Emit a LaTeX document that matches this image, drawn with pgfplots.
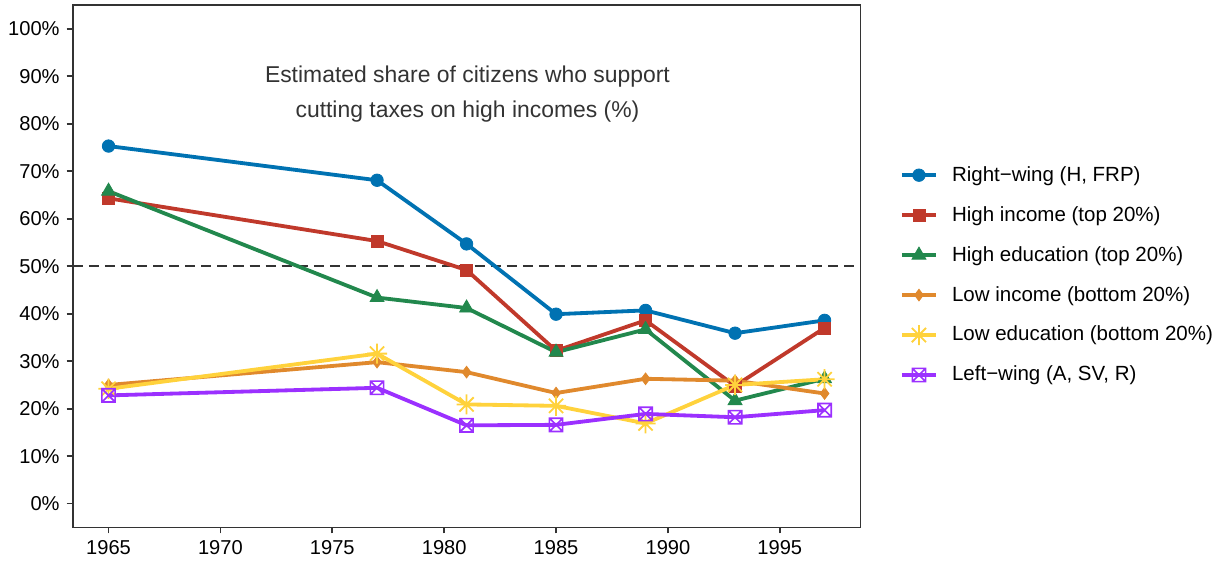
\documentclass[border=0pt]{standalone}
\usepackage{pgfplots}
\pgfplotsset{compat=1.18}
\usepackage{fontspec}
\setmainfont{Liberation Sans}
\definecolor{cblue}{RGB}{0,114,178}
\definecolor{cred}{RGB}{192,57,43}
\definecolor{cgreen}{RGB}{34,136,77}
\definecolor{corange}{RGB}{224,137,45}
\definecolor{cyellow}{RGB}{255,210,60}
\definecolor{cpurple}{RGB}{155,48,255}
\definecolor{axgray}{RGB}{51,51,51}
\pgfdeclareplotmark{sqx}{%
  \pgfpathrectangle{\pgfpoint{-\pgfplotmarksize}{-\pgfplotmarksize}}{\pgfpoint{2\pgfplotmarksize}{2\pgfplotmarksize}}%
  \pgfpathmoveto{\pgfpoint{-\pgfplotmarksize}{-\pgfplotmarksize}}\pgfpathlineto{\pgfpoint{\pgfplotmarksize}{\pgfplotmarksize}}%
  \pgfpathmoveto{\pgfpoint{-\pgfplotmarksize}{\pgfplotmarksize}}\pgfpathlineto{\pgfpoint{\pgfplotmarksize}{-\pgfplotmarksize}}%
  \pgfusepathqstroke}
\pgfdeclareplotmark{estar}{%
  \pgfpathmoveto{\pgfpoint{-\pgfplotmarksize}{0pt}}\pgfpathlineto{\pgfpoint{\pgfplotmarksize}{0pt}}%
  \pgfpathmoveto{\pgfpoint{0pt}{-\pgfplotmarksize}}\pgfpathlineto{\pgfpoint{0pt}{\pgfplotmarksize}}%
  \pgfpathmoveto{\pgfpoint{-0.707\pgfplotmarksize}{-0.707\pgfplotmarksize}}\pgfpathlineto{\pgfpoint{0.707\pgfplotmarksize}{0.707\pgfplotmarksize}}%
  \pgfpathmoveto{\pgfpoint{-0.707\pgfplotmarksize}{0.707\pgfplotmarksize}}\pgfpathlineto{\pgfpoint{0.707\pgfplotmarksize}{-0.707\pgfplotmarksize}}%
  \pgfusepathqstroke}
\begin{document}
\begin{tikzpicture}
\begin{axis}[
  scale only axis,
  width=392pt, height=260pt,
  xmin=1963.4, xmax=1998.6,
  ymin=-5, ymax=105,
  xtick={1965,1970,1975,1980,1985,1990,1995},
  ytick={0,10,...,100},
  yticklabel={\pgfmathprintnumber{\tick}\%},
  /pgf/number format/1000 sep={},
  /pgf/number format/assume math mode=true,
  tick pos=left,
  tick align=outside,
  major tick length=3pt,
  every tick/.style={axgray, line width=0.8pt},
  axis line style={axgray, line width=0.8pt},
  tick label style={font=\fontsize{10}{12}\selectfont, black},
  legend style={at={(1.042,0.483)}, anchor=west, draw=none, fill=none,
    font=\fontsize{10.2}{12}\selectfont, row sep=7pt,
    /tikz/every odd column/.append style={column sep=5pt}},
  legend cell align=left,
  every axis plot/.append style={line width=1.9pt},
]
\addplot[color=axgray, dashed, line width=1pt, dash pattern=on 5pt off 3pt, forget plot] coordinates {(1963.4,50) (1998.6,50)};
\addplot[color=cblue, mark=*, mark size=3.1pt, mark options={line width=0.4pt}] coordinates {
(1965,75.3) (1977,68.1) (1981,54.7) (1985,39.9) (1989,40.7) (1993,35.9) (1997,38.6)};
\addlegendentry{Right−wing (H, FRP)}
\addplot[color=cred, mark=square*, mark size=3pt, mark options={line width=0.4pt}] coordinates {
(1965,64.3) (1977,55.3) (1981,49.2) (1985,32.2) (1989,38.6) (1993,24.8) (1997,37.0)};
\addlegendentry{High income (top 20\%)}
\addplot[color=cgreen, mark=triangle*, mark size=4pt, mark options={line width=0.4pt}] coordinates {
(1965,65.8) (1977,43.4) (1981,41.2) (1985,31.9) (1989,36.7) (1993,21.7) (1997,26.3)};
\addlegendentry{High education (top 20\%)}
\addplot[color=corange, mark=diamond*, mark size=2.9pt, mark options={line width=0.4pt}] coordinates {
(1965,25.0) (1977,29.8) (1981,27.7) (1985,23.3) (1989,26.3) (1993,25.9) (1997,23.2)};
\addlegendentry{Low income (bottom 20\%)}
\addplot[color=cyellow, mark=estar, mark size=5pt, mark options={line width=0.9pt}] coordinates {
(1965,24.2) (1977,31.6) (1981,20.9) (1985,20.6) (1989,16.9) (1993,25.0) (1997,26.2)};
\addlegendentry{Low education (bottom 20\%)}
\addplot[color=cpurple, mark=sqx, mark size=3.3pt, mark options={line width=0.8pt}] coordinates {
(1965,22.8) (1977,24.4) (1981,16.5) (1985,16.6) (1989,18.9) (1993,18.2) (1997,19.7)};
\addlegendentry{Left−wing (A, SV, R)}
\node[align=center, text=axgray, font=\fontsize{11.4}{17.3}\selectfont] at (axis cs:1981.04,86.2) {Estimated share of citizens who support\\cutting taxes on high incomes (\%)};
\coordinate (TL) at (rel axis cs:0,1);
\coordinate (BR) at (rel axis cs:1,0);
\end{axis}
\path ([xshift=-36.2pt,yshift=2.5pt]TL) rectangle ([xshift=178.7pt,yshift=-16.9pt]BR);
\end{tikzpicture}
\end{document}
